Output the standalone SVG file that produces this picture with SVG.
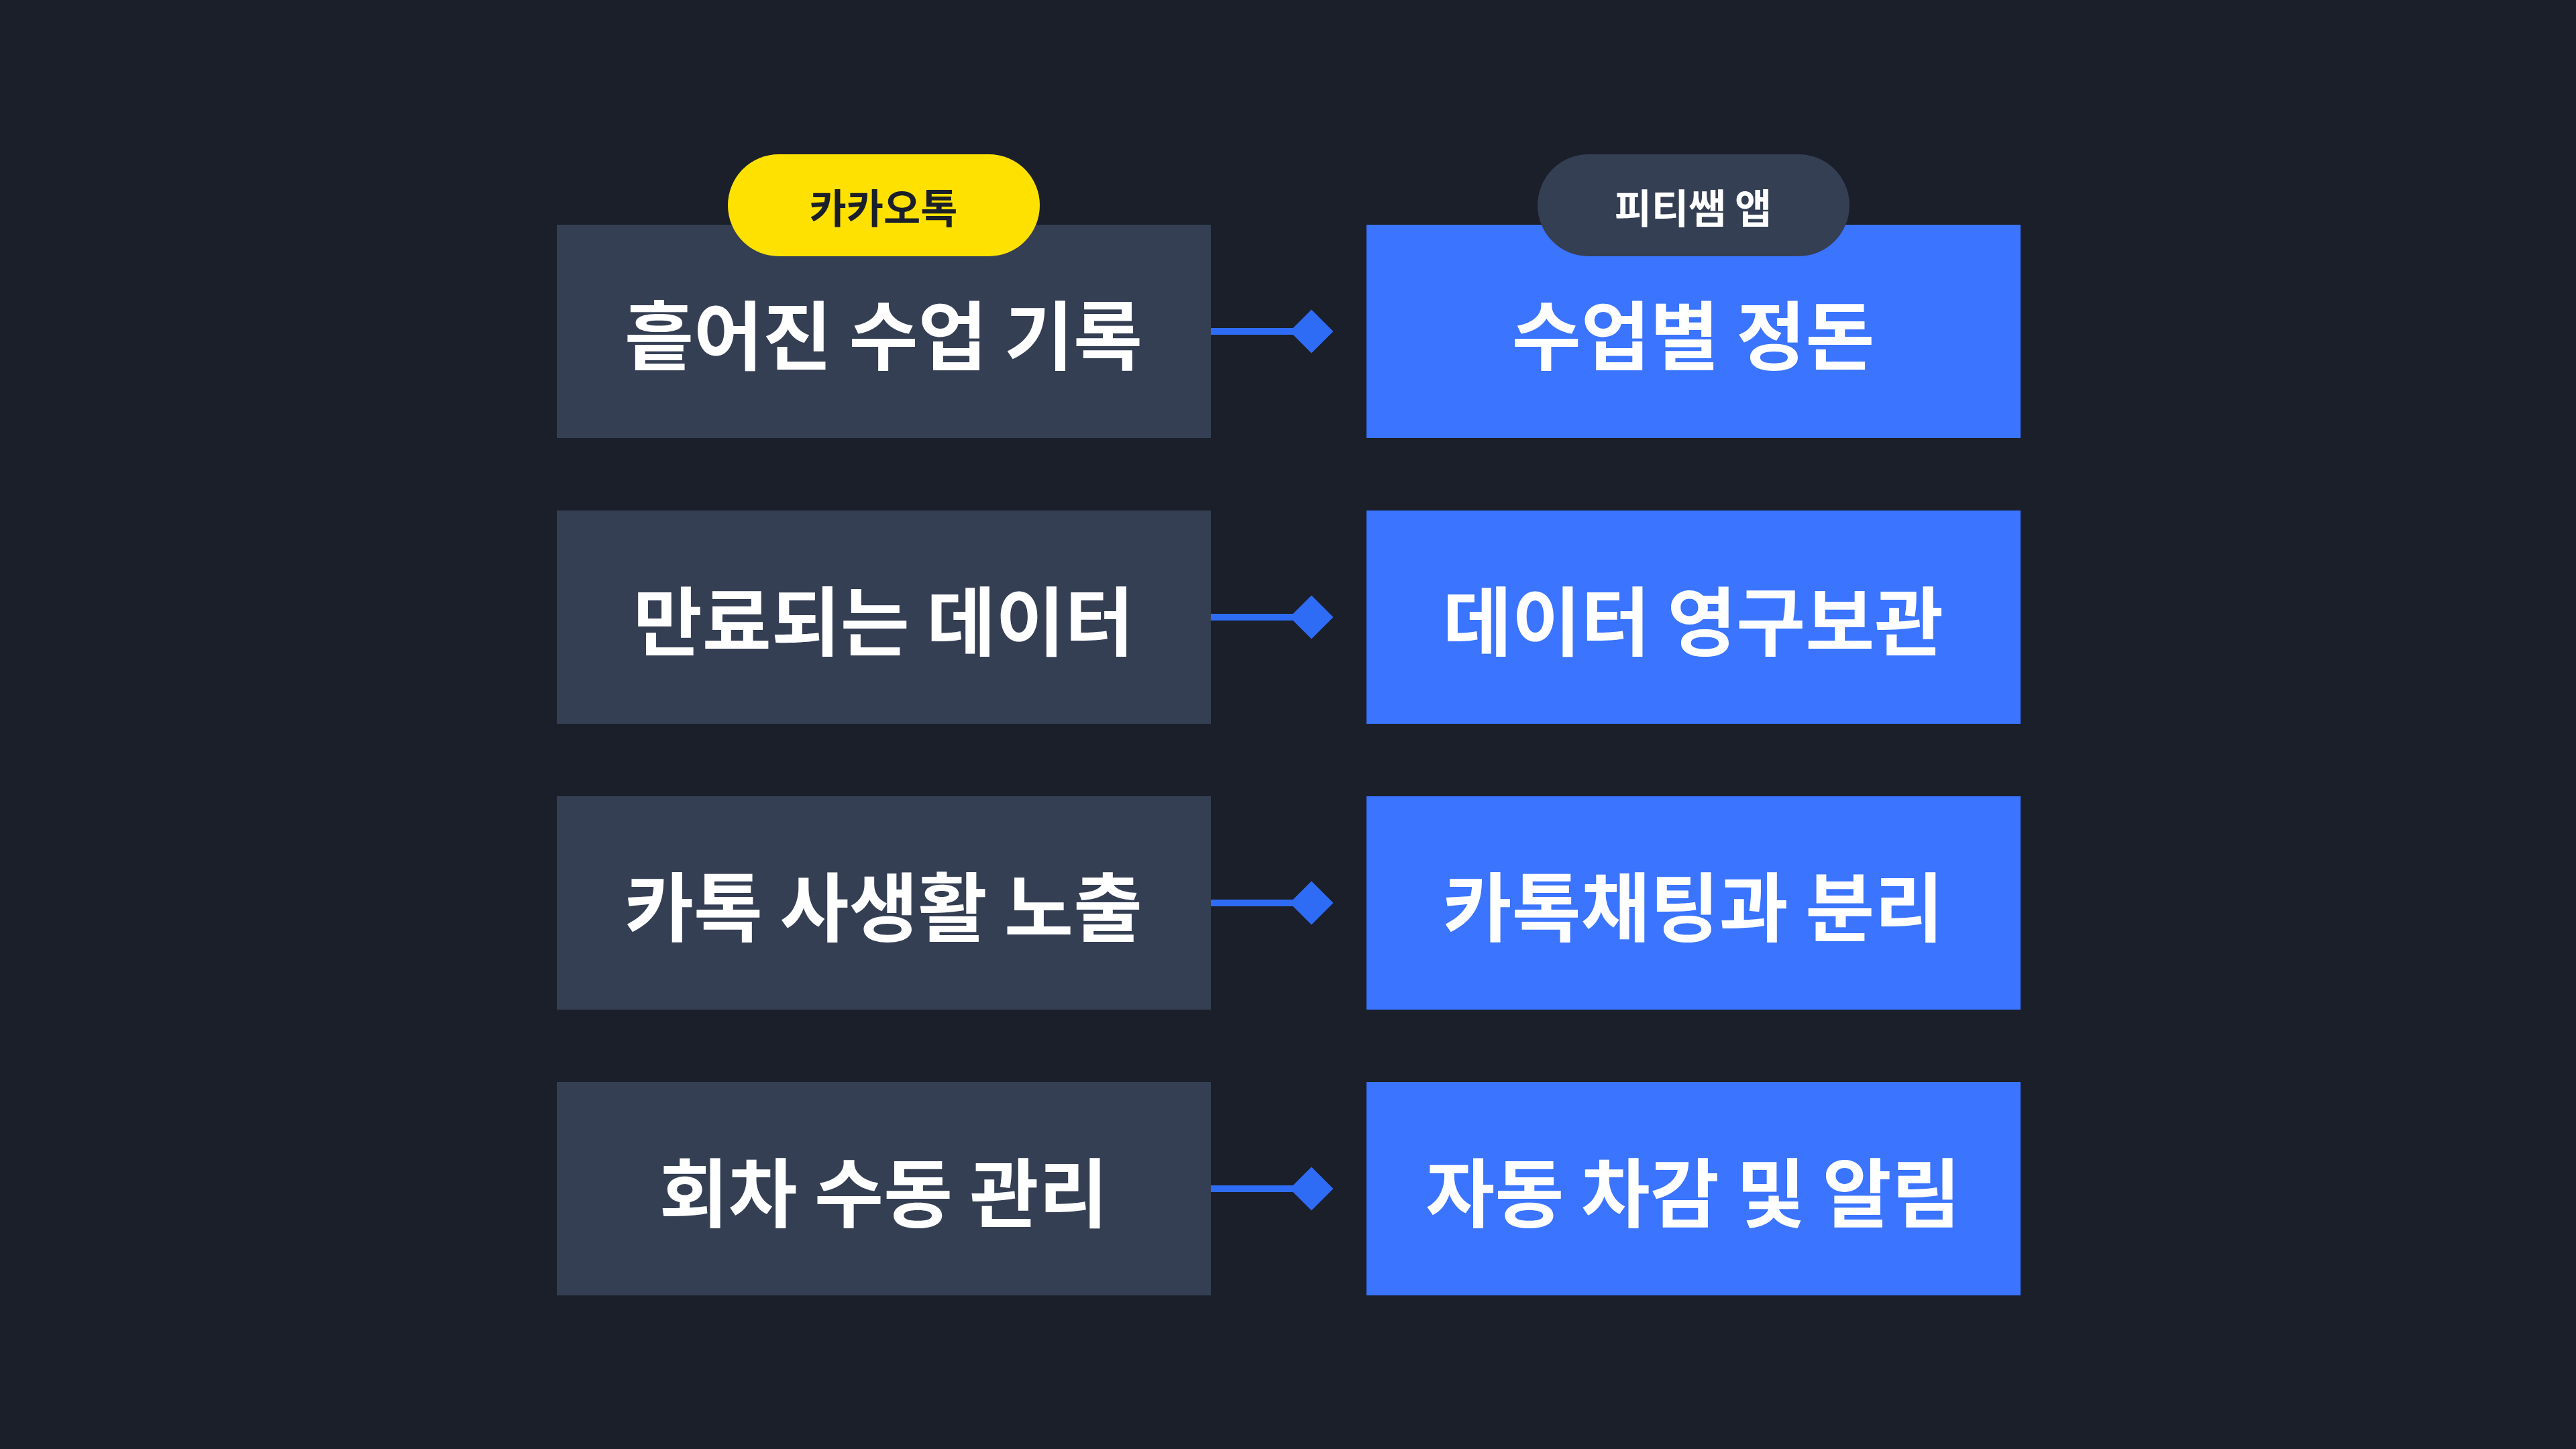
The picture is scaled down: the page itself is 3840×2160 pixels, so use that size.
<svg xmlns="http://www.w3.org/2000/svg" width="3840" height="2160" viewBox="0 0 3840 2160">
<style>
.l{fill:#353f54}.r{fill:#3a74ff}
.t{font-family:"Noto Sans CJK KR","Noto Sans",sans-serif;font-weight:700;font-size:112px;fill:#fff;text-anchor:middle;dominant-baseline:central}
.p{font-family:"Noto Sans CJK KR","Noto Sans",sans-serif;font-weight:700;font-size:60px;text-anchor:middle;dominant-baseline:central}
.c{stroke:#2f6cf5;stroke-width:10;fill:none}.d{fill:#2f6cf5}
</style>
<rect width="3840" height="2160" fill="#1a1f2a"/>
<g id="connectors">
<line class="c" x1="1805" y1="494" x2="1955" y2="494"/><rect class="d" x="1932" y="471" width="46" height="46" transform="rotate(45 1955 494)"/>
<line class="c" x1="1805" y1="920" x2="1955" y2="920"/><rect class="d" x="1932" y="897" width="46" height="46" transform="rotate(45 1955 920)"/>
<line class="c" x1="1805" y1="1346" x2="1955" y2="1346"/><rect class="d" x="1932" y="1323" width="46" height="46" transform="rotate(45 1955 1346)"/>
<line class="c" x1="1805" y1="1772" x2="1955" y2="1772"/><rect class="d" x="1932" y="1749" width="46" height="46" transform="rotate(45 1955 1772)"/>
</g>
<g id="l1"><rect class="l" x="830" y="335" width="975" height="318"/><text class="t" x="1317" y="494">흩어진 수업 기록</text></g>
<g id="l2"><rect class="l" x="830" y="761" width="975" height="318"/><text class="t" x="1317" y="920">만료되는 데이터</text></g>
<g id="l3"><rect class="l" x="830" y="1187" width="975" height="318"/><text class="t" x="1317" y="1346">카톡 사생활 노출</text></g>
<g id="l4"><rect class="l" x="830" y="1613" width="975" height="318"/><text class="t" x="1317" y="1772">회차 수동 관리</text></g>
<g id="r1"><rect class="r" x="2037" y="335" width="975" height="318"/><text class="t" x="2524" y="494">수업별 정돈</text></g>
<g id="r2"><rect class="r" x="2037" y="761" width="975" height="318"/><text class="t" x="2524" y="920">데이터 영구보관</text></g>
<g id="r3"><rect class="r" x="2037" y="1187" width="975" height="318"/><text class="t" x="2524" y="1346">카톡채팅과 분리</text></g>
<g id="r4"><rect class="r" x="2037" y="1613" width="975" height="318"/><text class="t" x="2524" y="1772">자동 차감 및 알림</text></g>
<g id="pill1"><rect x="1085" y="230" width="465" height="152" rx="76" fill="#ffe100"/><text class="p" x="1317" y="306" fill="#1a1f2a">카카오톡</text></g>
<g id="pill2"><rect x="2292" y="230" width="465" height="152" rx="76" fill="#353f54"/><text class="p" x="2524" y="306" fill="#fff">피티쌤 앱</text></g>
</svg>
